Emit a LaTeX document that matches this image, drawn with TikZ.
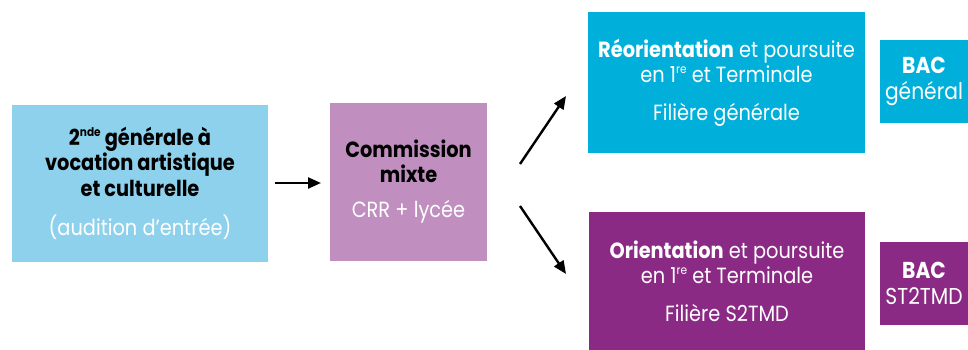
\documentclass[tikz,border=0pt]{standalone}
\usepackage{fontspec}
\setmainfont{Poppins}[FakeStretch=0.88]
\usetikzlibrary{arrows.meta}
\definecolor{lblue}{HTML}{8ED1EC}
\definecolor{mauve}{HTML}{C08FC0}
\definecolor{cyanb}{HTML}{00B0DA}
\definecolor{purp}{HTML}{8B2A84}
\tikzset{
  box/.style={inner sep=0pt, align=center, font=\fontsize{22}{25.5}\selectfont},
  bacbox/.style={box, text=white, minimum width=88pt, minimum height=83pt, font=\fontsize{23}{26}\selectfont},
  arr/.style={line width=2.4pt, -{Triangle[length=13pt,width=11pt]}},
}
\newcommand{\mysup}[1]{\raisebox{0.42em}{\fontsize{12}{12}\selectfont #1}}
\begin{document}
\begin{tikzpicture}[x=1pt,y=-1pt]
\useasboundingbox (0,0) rectangle (968,350);
\node[box, fill=lblue, minimum width=256pt, minimum height=157pt] (gen) at (140,183.5)
  {\bfseries 2\mysup{nde} générale à\\ \bfseries vocation artistique\\ \bfseries et culturelle\\[14pt] \color{white}(audition d’entrée)};
\node[box, fill=mauve, minimum width=157pt, minimum height=158pt] (comm) at (408.5,182)
  {\raisebox{-4pt}{\begin{tabular}{@{}c@{}}\bfseries Commission\\ \bfseries mixte\\[9pt] \color{white}CRR + lycée\end{tabular}}};
\node[box, fill=cyanb, text=white, minimum width=277pt, minimum height=141pt] (reo) at (726.5,82.5)
  {\textbf{Réorientation} et poursuite\\ en 1\mysup{re} et Terminale\\[12pt] Filière générale};
\node[box, fill=purp, text=white, minimum width=276pt, minimum height=138pt] (ori) at (727,281)
  {\textbf{Orientation} et poursuite\\ en 1\mysup{re} et Terminale\\[12pt] Filière S2TMD};
\node[bacbox, fill=cyanb] (bacg) at (924,81.5)
  {\bfseries BAC\\ général};
\node[bacbox, fill=purp] (bacs) at (924,283.5)
  {\bfseries BAC\\ ST2TMD};
\coordinate (a1) at (275,183);
\coordinate (a2) at (321,183);
\coordinate (u1) at (520,164);
\coordinate (u2) at (566,96);
\coordinate (d1) at (520,206);
\coordinate (d2) at (566,274);
\draw[arr] (a1) -- (a2);
\draw[arr] (u1) -- (u2);
\draw[arr] (d1) -- (d2);
\end{tikzpicture}
\end{document}
